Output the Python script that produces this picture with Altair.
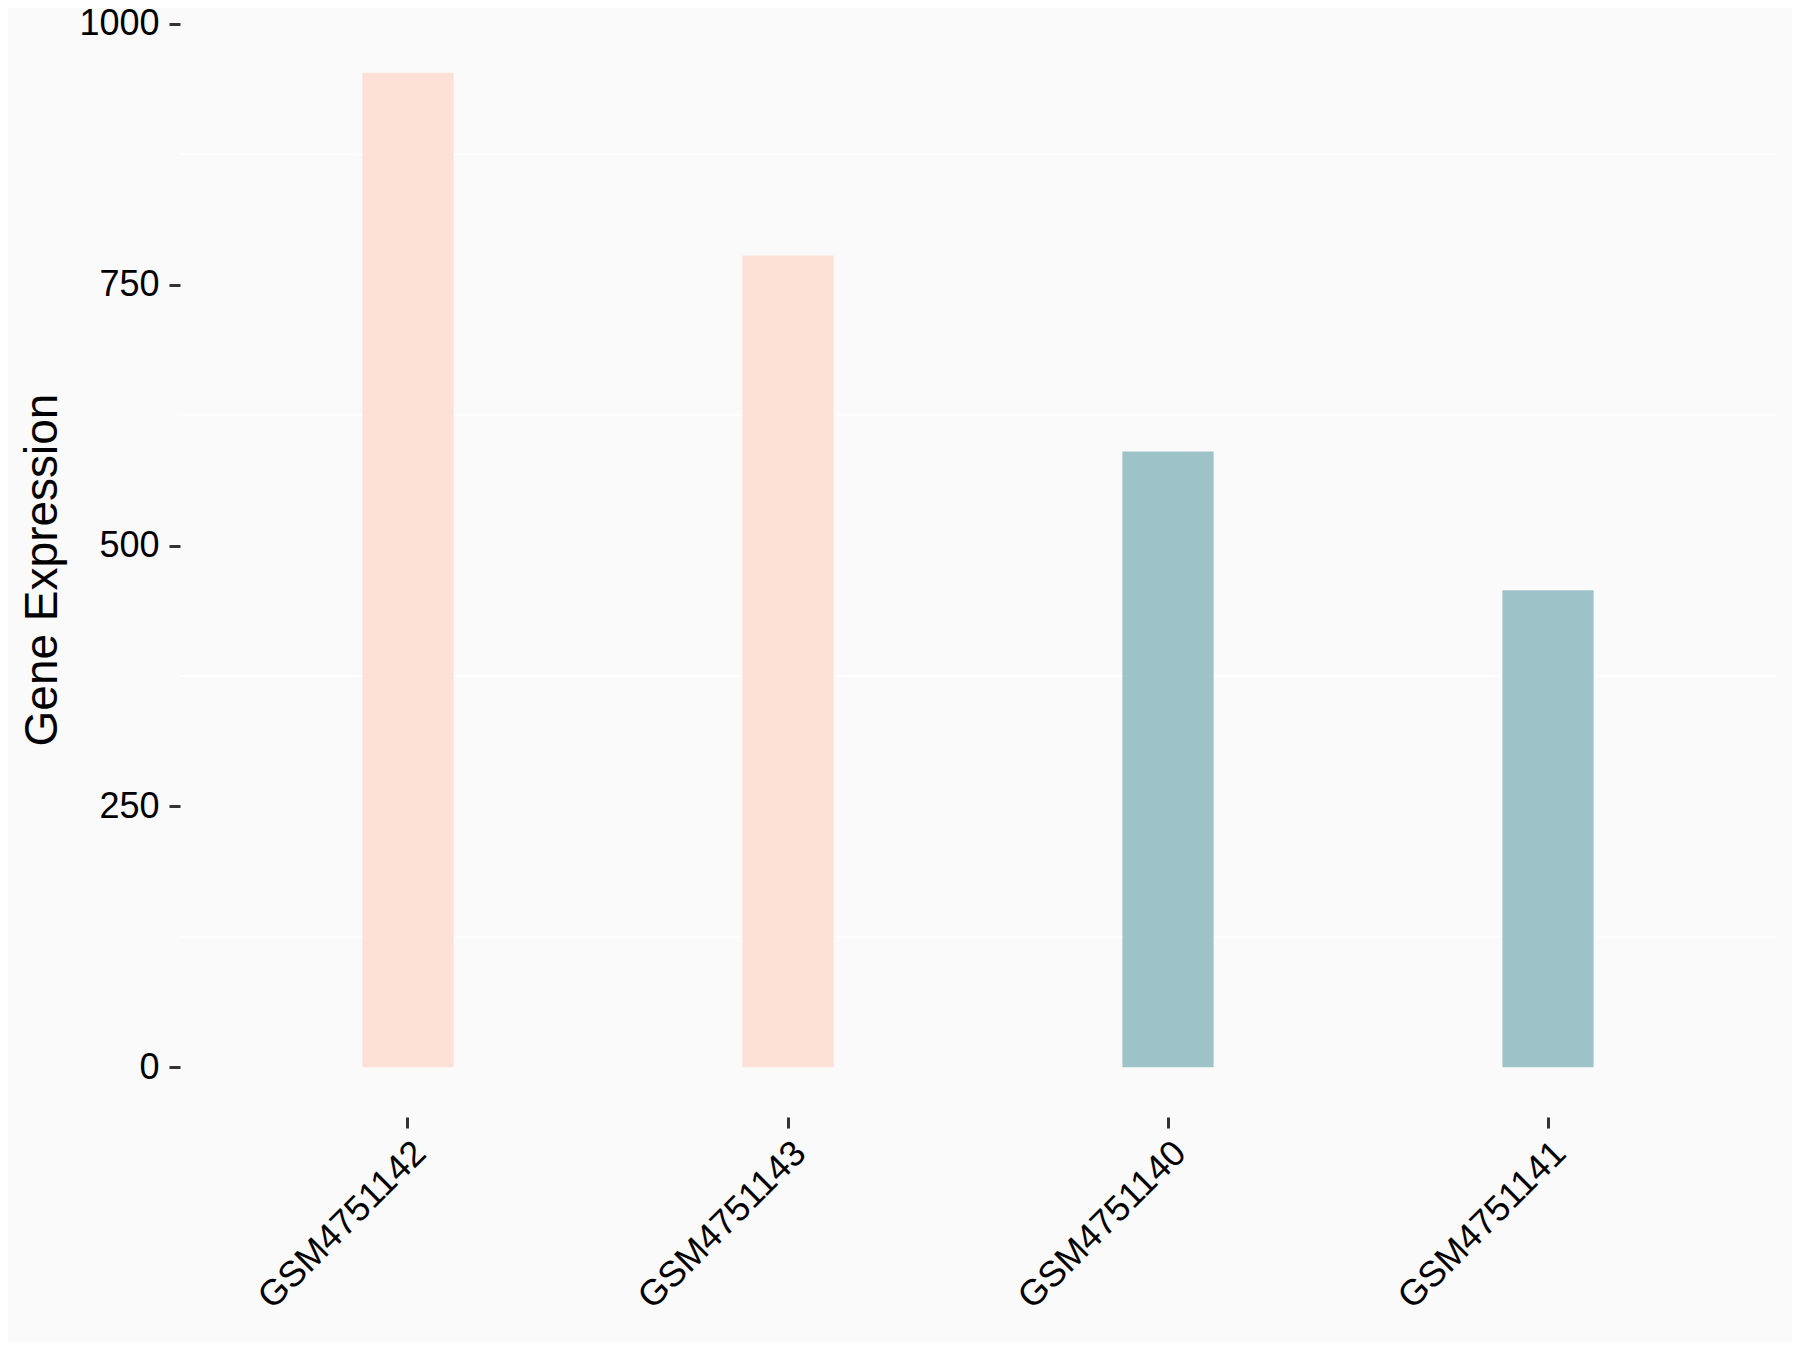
import altair as alt
import pandas as pd

samples = ["GSM4751142", "GSM4751143", "GSM4751140", "GSM4751141"]
expression = [953, 778, 590, 457]
groups = ["high", "high", "low", "low"]
group_names = ["high", "low"]
group_colors = ["#FEE1D6", "#9DC3C8"]
y_tick_values = [0, 250, 500, 750, 1000]
minor_grid = [125, 375, 625, 875]

FONT = "Liberation Sans"

df = pd.DataFrame({"sample": samples, "expr": expression, "group": groups})
grid_df = pd.DataFrame({"g": minor_grid})

yscale = alt.Scale(domain=[-47.7, 1001.7], nice=False, zero=False)
xscale = alt.Scale(paddingInner=0.76, paddingOuter=0.48)

y_axis = alt.Axis(
    values=y_tick_values,
    format="d",
    title="Gene Expression",
    titleFont=FONT,
    titleFontSize=46,
    titleFontWeight="normal",
    titleColor="black",
    titlePadding=12,
    labelFont=FONT,
    labelFontSize=36,
    labelColor="black",
    labelPadding=10,
    tickSize=11,
    tickWidth=3,
    tickColor="#333333",
    domain=False,
    grid=False,
)

grid = alt.Chart(grid_df).mark_rule(color="white", strokeWidth=2).encode(
    y=alt.Y("g:Q", scale=yscale, axis=y_axis, title="Gene Expression")
)

bars = alt.Chart(df).mark_bar().encode(
    x=alt.X(
        "sample:N",
        sort=samples,
        scale=xscale,
        axis=alt.Axis(
            title=None,
            labelAngle=-45,
            labelAlign="right",
            labelBaseline="top",
            labelFont=FONT,
            labelFontSize=36,
            labelColor="black",
            labelPadding=7,
            labelLimit=0,
            tickSize=11,
            tickWidth=3,
            tickColor="#333333",
            domain=False,
            grid=False,
        ),
    ),
    y=alt.Y("expr:Q", scale=yscale, axis=y_axis, title="Gene Expression"),
    y2=alt.datum(0),
    color=alt.Color(
        "group:N",
        scale=alt.Scale(domain=group_names, range=group_colors),
        legend=None,
    ),
)

chart = (
    alt.layer(grid, bars)
    .properties(
        width=1596,
        height=1095,
        autosize=alt.AutoSizeParams(type="none"),
        padding={"left": 172, "top": 14, "right": 16, "bottom": 225},
    )
    .configure(background="#FAFAFA")
    .configure_view(stroke=None)
)

chart.save("out.html", embed_options={"renderer": "svg", "actions": False})
